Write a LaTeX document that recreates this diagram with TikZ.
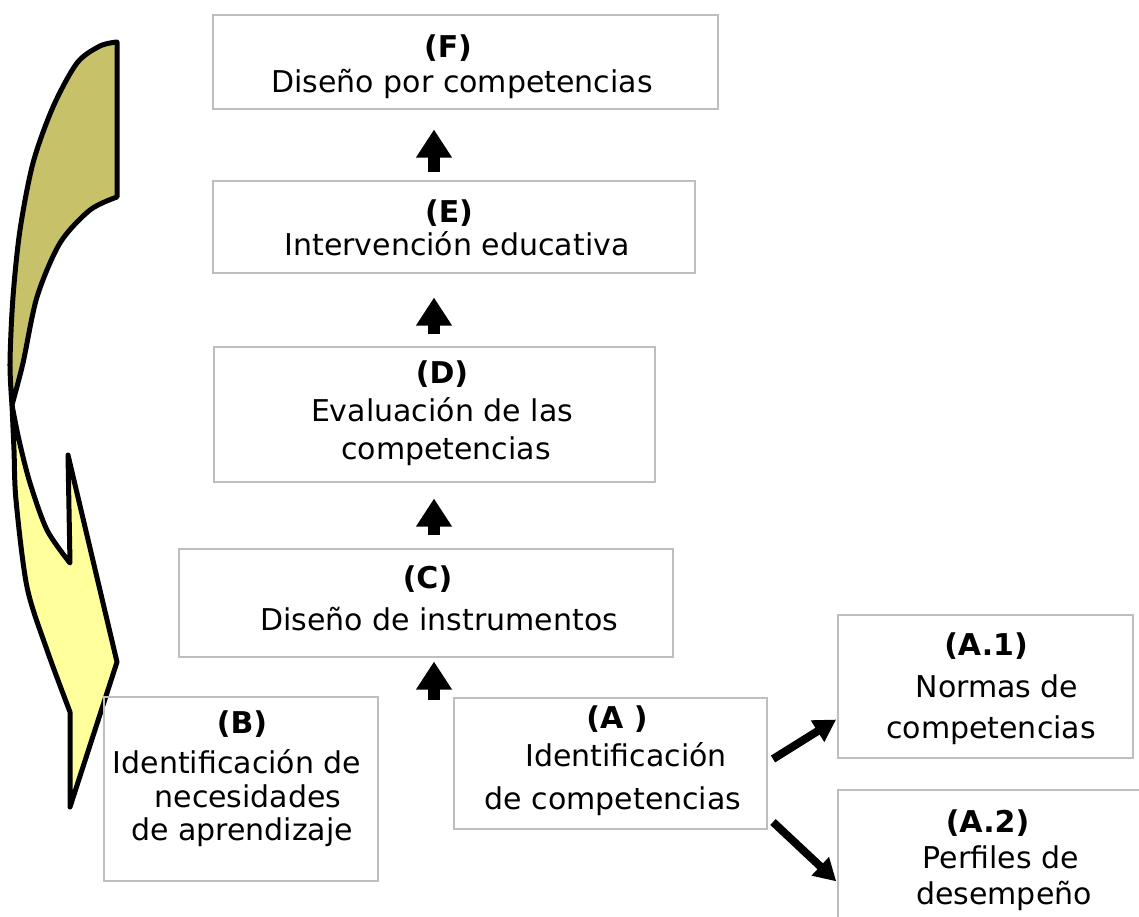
\documentclass[tikz,border=0pt]{standalone}
\usepackage{fontspec}
\setmainfont{DejaVu Sans}
\usetikzlibrary{arrows.meta}
\definecolor{boxgray}{RGB}{190,190,190}
\definecolor{olivefill}{RGB}{199,193,106}
\definecolor{yellowfill}{RGB}{255,255,155}
\newcommand{\boxlines}[1]{\begin{tabular}[t]{@{}c@{}}#1\end{tabular}}
\begin{document}
\begin{tikzpicture}[x=1pt,y=-1pt,
  box/.style={draw=boxgray, line width=1.5pt, inner sep=0pt, anchor=north west},
  txt/.style={inner sep=0pt, anchor=base, font=\fontsize{30}{32}\selectfont},
  uparr/.style={line width=12pt, -{Triangle[width=34pt,length=28pt]}},
  diagarr/.style={line width=8pt, -{Triangle[width=24pt,length=22pt]}},
  ribbon/.style={draw=black, line width=5pt, line join=round}]
\path[use as bounding box] (0,0) rectangle (1139,916);
\clip (0,0) rectangle (1139,916);

% curved ribbon arrow on the left
\filldraw[ribbon, fill=olivefill] (117,42) -- (117,197)
  -- plot[smooth] coordinates {(117,197) (90,210) (60,243) (37,297) (23,363) (12,405)}
  -- plot[smooth] coordinates {(12,405) (10,363) (13,297) (20,230) (33,163) (53,107) (77,63) (100,46) (117,42)}
  -- cycle;
\filldraw[ribbon, fill=yellowfill]
  plot[smooth] coordinates {(12,405) (14,450) (16,500) (27,587) (47,650) (70,712)}
  -- (70,807) -- (117,662) -- (68,455) -- (70,563)
  -- plot[smooth] coordinates {(70,563) (47,530) (30,483) (19,440) (12,405)}
  -- cycle;

% boxes
\node[box, minimum width=505pt, minimum height=94pt]  (F)  at (212,14)  {};
\node[box, minimum width=482pt, minimum height=92pt]  (E)  at (212,180) {};
\node[box, minimum width=441pt, minimum height=135pt] (D)  at (213,346) {};
\node[box, minimum width=494pt, minimum height=108pt] (C)  at (178,548) {};
\node[box, minimum width=274pt, minimum height=184pt] (B)  at (103,696) {};
\node[box, minimum width=313pt, minimum height=131pt] (A)  at (453,697) {};
\node[box, minimum width=295pt, minimum height=143pt] (A1) at (837,614) {};
\node[box, minimum width=330pt, minimum height=160pt] (A2) at (837,789) {};

% texts
\node[txt] (Ft)  at (462,57)  {\boxlines{\textbf{(F)}\hspace*{28pt}\\[3pt] Diseño por competencias}};
\node[txt] (Et)  at (457,222) {\boxlines{\textbf{(E)}\hspace*{16pt}\\ Intervención educativa}};
\node[txt] (Dt)  at (442,383) {\boxlines{\textbf{(D)}\\[5pt] Evaluación de las\\[6pt] \hspace*{8pt}competencias}};
\node[txt] (Ct)  at (439,588) {\boxlines{\textbf{(C)}\hspace*{23pt}\\[10pt] Diseño de instrumentos}};
\node[txt] (Bt)  at (242,733) {\boxlines{\textbf{(B)}\\[7pt] Identificación de\hspace*{10pt}\\[1pt] \hspace*{12pt}necesidades\\[1pt] de aprendizaje}};
\node[txt] (At)  at (620,728) {\boxlines{\textbf{(A )}\hspace*{6pt}\\[5pt] \hspace*{12pt}Identificación\\[10pt] de competencias\hspace*{14pt}}};
\node[txt] (A1t) at (991,655) {\boxlines{\textbf{(A.1)}\hspace*{10pt}\\[10pt] \hspace*{12pt}Normas de\\[9pt] competencias}};
\node[txt] (A2t) at (1001,832) {\boxlines{\textbf{(A.2)}\hspace*{27pt}\\[4pt] Perfiles de\\[3pt] \hspace*{6pt}desempeño}};

% connectors
\coordinate (ax) at (434,0);
\coordinate (cstart) at (434,700);
\draw[uparr, shorten <=8pt, shorten >=20pt] (E.north -| ax) -- (F.south -| ax);
\draw[uparr, shorten <=12pt, shorten >=24pt] (D.north -| ax) -- (E.south -| ax);
\draw[uparr, shorten <=13pt, shorten >=16pt] (C.north -| ax) -- (D.south -| ax);
\draw[uparr, shorten >=4pt] (cstart) -- (C.south -| ax);
\coordinate (d1s) at (773,759);
\coordinate (d2s) at (773,822);
\draw[diagarr, shorten >=1pt] (d1s) -- (A1.west |- 0,719);
\draw[diagarr, shorten >=1pt] (d2s) -- (A2.west |- 0,882);
\end{tikzpicture}
\end{document}
